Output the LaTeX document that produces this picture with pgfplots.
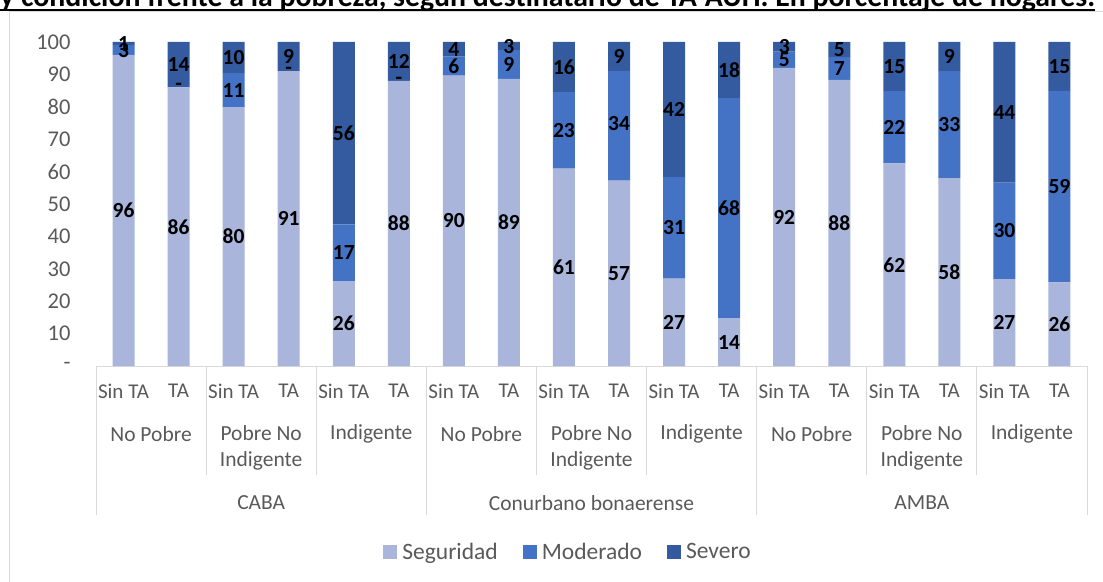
\documentclass[border=0pt]{standalone}
\usepackage{pgfplots}
\pgfplotsset{compat=1.18}
\usepackage{pgfplotstable}
\usepackage{fontspec}
\setmainfont{Carlito}
\definecolor{seg}{HTML}{A9B5DB}
\definecolor{mod}{HTML}{4472C4}
\definecolor{sev}{HTML}{345AA0}
\definecolor{txtgray}{HTML}{595959}
\definecolor{linegray}{HTML}{D9D9D9}
\pgfplotsset{sqlegend/.style={legend image code/.code={\fill[##1] (0pt,-7pt) rectangle (14pt,7pt);}}}
\tikzset{catlab/.style={text=txtgray, font=\fontsize{21.5}{26}\selectfont, align=center},
  sepline/.style={linegray, line width=1pt}}

% x, Seguridad, Moderado, Severo
\pgfplotstableread{
x S M V
0.5 96 3 1
1.5 86 0 14
2.5 79.9 10.5 9.6
3.5 91 0 9
4.5 26.2 17.5 56.3
5.5 88 0 12
6.5 89.6 5.9 4.5
7.5 88.6 8.9 2.5
8.5 60.9 23.6 15.5
9.5 57.2 33.9 8.9
10.5 27.0 31.3 41.7
11.5 14.8 67.9 17.3
12.5 92 5 3
13.5 88.3 7 4.7
14.5 62.5 22.3 15.2
15.5 58 33 9
16.5 26.8 29.8 43.4
17.5 25.8 59.1 15.1
}\datatable

% label positions (segment centres) and label texts
\pgfplotstableread{
x y lab
0.5 48 96
0.5 97.5 3
0.5 99.5 1
1.5 43 86
1.5 86 -
1.5 93 14
2.5 39.95 80
2.5 85.15 11
2.5 95.2 10
3.5 45.5 91
3.5 91 -
3.5 95.5 9
4.5 13.1 26
4.5 34.95 17
4.5 71.85 56
5.5 44 88
5.5 88 -
5.5 94 12
6.5 44.8 90
6.5 92.55 6
6.5 97.75 4
7.5 44.3 89
7.5 93.05 9
7.5 98.75 3
8.5 30.45 61
8.5 72.7 23
8.5 92.25 16
9.5 28.6 57
9.5 74.75 34
9.5 95.55 9
10.5 13.5 27
10.5 42.65 31
10.5 79.15 42
11.5 7.4 14
11.5 48.75 68
11.5 91.35 18
12.5 46 92
12.5 94.5 5
12.5 98.5 3
13.5 44.15 88
13.5 91.8 7
13.5 97.65 5
14.5 31.25 62
14.5 73.65 22
14.5 92.4 15
15.5 29 58
15.5 74.5 33
15.5 95.5 9
16.5 13.4 27
16.5 41.7 30
16.5 78.3 44
17.5 12.9 26
17.5 55.35 59
17.5 92.45 15
}\labeltable

\begin{document}
\begin{tikzpicture}
\useasboundingbox (0pt,0pt) rectangle (1103pt,581pt);
\clip (0pt,0pt) rectangle (1103pt,581pt);
% chart border
\draw[linegray, line width=1pt] (9pt,-20pt) rectangle (1120pt,569pt);
% title (cut at the top)
\node[anchor=base west, inner sep=0pt, font=\bfseries\fontsize{29.8}{34}\selectfont] (T) at (0pt,574pt)
  {y condición frente a la pobreza, según destinatario de TA-AUH. En porcentaje de hogares.};
\draw[line width=2pt] ([yshift=-2.8pt]T.base west) -- ([yshift=-2.8pt]T.base east);

\begin{axis}[
  at={(96pt,215pt)}, anchor=south west,
  width=991pt, height=324pt, scale only axis,
  xmin=0, xmax=18, ymin=0, ymax=100,
  ybar stacked, bar width=22pt,
  axis x line*=bottom, axis y line*=left,
  x axis line style={linegray, line width=1pt, -},
  y axis line style={draw=none},
  major tick length=0pt,
  ytick={0,10,...,100},
  yticklabels={-,10,20,30,40,50,60,70,80,90,100},
  yticklabel style={anchor=east, xshift=-22pt, text=txtgray, font=\fontsize{22.5}{26}\selectfont},
  xtick={0.5,1.5,...,17.5},
  xticklabels={Sin TA,TA,Sin TA,TA,Sin TA,TA,Sin TA,TA,Sin TA,TA,Sin TA,TA,Sin TA,TA,Sin TA,TA,Sin TA,TA},
  xticklabel style={anchor=center, yshift=-25pt, text=txtgray, font=\fontsize{21}{25}\selectfont},
  clip=false,
  legend columns=-1,
  legend style={at={(0.4753,-0.574)}, anchor=center, draw=none, fill=none,
    font=\fontsize{23.5}{27}\selectfont, text=txtgray,
    nodes={inner sep=0pt},
    /tikz/every odd column/.append style={column sep=5pt},
    /tikz/every even column/.append style={column sep=25pt}},
]
\addplot[draw=none, fill=seg, sqlegend] table[x=x, y=S] {\datatable};
\addplot[draw=none, fill=mod, sqlegend] table[x=x, y=M] {\datatable};
\addplot[draw=none, fill=sev, sqlegend] table[x=x, y=V] {\datatable};
\legend{Seguridad,Moderado,Severo}

% category separators
\draw[sepline] (axis cs:2,0) -- ++(0pt,-109pt);
\draw[sepline] (axis cs:4,0) -- ++(0pt,-109pt);
\draw[sepline] (axis cs:8,0) -- ++(0pt,-109pt);
\draw[sepline] (axis cs:10,0) -- ++(0pt,-109pt);
\draw[sepline] (axis cs:14,0) -- ++(0pt,-109pt);
\draw[sepline] (axis cs:16,0) -- ++(0pt,-109pt);
\draw[sepline] (axis cs:0,0) -- ++(0pt,-149pt);
\draw[sepline] (axis cs:6,0) -- ++(0pt,-149pt);
\draw[sepline] (axis cs:12,0) -- ++(0pt,-149pt);
\draw[sepline] (axis cs:18,0) -- ++(0pt,-149pt);
% second-level and third-level category labels
\node[catlab] at (axis cs:1,0) [yshift=-68pt] {No Pobre};
\node[catlab] at (axis cs:7,0) [yshift=-68pt] {No Pobre};
\node[catlab] at (axis cs:13,0) [yshift=-68pt] {No Pobre};
\node[catlab] at (axis cs:3,0) [yshift=-82pt] {Pobre No\\Indigente};
\node[catlab] at (axis cs:9,0) [yshift=-82pt] {Pobre No\\Indigente};
\node[catlab] at (axis cs:15,0) [yshift=-82pt] {Pobre No\\Indigente};
\node[catlab] at (axis cs:5,0) [yshift=-68pt] {Indigente};
\node[catlab] at (axis cs:11,0) [yshift=-68pt] {Indigente};
\node[catlab] at (axis cs:17,0) [yshift=-68pt] {Indigente};
\node[catlab] at (axis cs:3,0) [yshift=-137pt] {CABA};
\node[catlab] at (axis cs:9,0) [yshift=-137pt] {Conurbano bonaerense};
\node[catlab] at (axis cs:15,0) [yshift=-137pt] {AMBA};
\end{axis}

% data labels, in an overlay axis with the same geometry
\begin{axis}[
  at={(96pt,215pt)}, anchor=south west,
  width=991pt, height=324pt, scale only axis,
  xmin=0, xmax=18, ymin=0, ymax=100,
  hide axis, clip=false,
]
\addplot[draw=none, mark=none, nodes near coords, point meta=explicit symbolic,
  every node near coord/.style={anchor=center, text=black, inner sep=0pt, font=\bfseries\fontsize{21.5}{25}\selectfont}]
  table[x=x, y=y, meta=lab] {\labeltable};
\end{axis}
\end{tikzpicture}
\end{document}
